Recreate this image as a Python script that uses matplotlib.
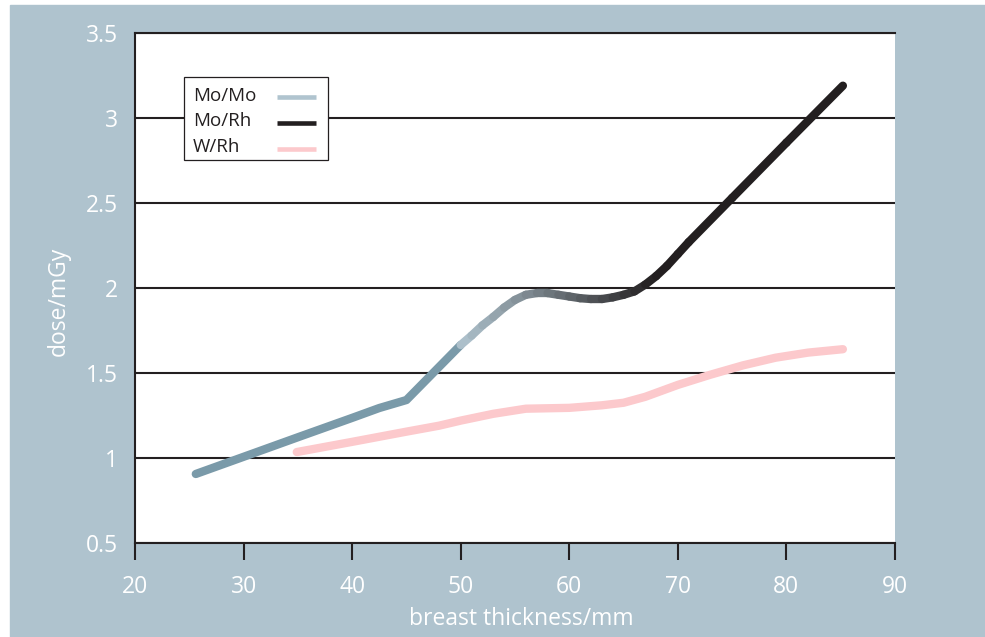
import numpy as np
import matplotlib
matplotlib.use("Agg")
import matplotlib.pyplot as plt
from matplotlib.collections import LineCollection
from matplotlib.patches import Rectangle
from matplotlib.colors import to_rgb

plt.rcParams["font.family"] = ["Open Sans", "DejaVu Sans"]

# Mo/Mo target/filter (25-50 mm)
thick_mo = [25.6, 30, 35, 40, 42.5, 45, 50]
dose_mo = [0.906, 1.007, 1.122, 1.236, 1.294, 1.341, 1.665]

# Mo/Rh target/filter (50-85 mm), blends in colour from Mo/Mo
thick_rh = [50, 51, 52, 53, 54, 55, 56, 57, 58, 59, 60, 61, 62, 63, 64, 65,
            66, 67, 68, 69, 70, 71, 75, 80, 85.2]
dose_rh = [1.665, 1.72, 1.78, 1.83, 1.885, 1.93, 1.96, 1.97, 1.97, 1.96, 1.95,
           1.94, 1.935, 1.935, 1.945, 1.96, 1.98, 2.02, 2.07, 2.13, 2.2,
           2.27, 2.53, 2.855, 3.19]

# W/Rh target/filter
thick_w = [34.9, 40, 45, 48, 50, 53, 56, 60, 63, 65, 67, 70, 73, 76, 79, 82, 85.2]
dose_w = [1.035, 1.095, 1.155, 1.19, 1.22, 1.26, 1.29, 1.295, 1.31, 1.325,
          1.36, 1.43, 1.49, 1.545, 1.59, 1.62, 1.64]

labels = ["Mo/Mo", "Mo/Rh", "W/Rh"]
xticks = [20, 30, 40, 50, 60, 70, 80, 90]
yticks = [0.5, 1, 1.5, 2, 2.5, 3, 3.5]

bg = "#afc3ce"
ink = "#231f20"
c_mo = "#7a9aa9"
c_mo_light = "#b0c4cf"
c_w = "#fcc9cc"

fig = plt.figure(figsize=(9.85, 6.37), dpi=100)
fig.patches.append(Rectangle((10 / 985, 0), 975 / 985, 632 / 637,
                             transform=fig.transFigure, color=bg, zorder=-10))
ax = fig.add_axes([135 / 985, 94 / 637, 760 / 985, 510 / 637])
ax.set_facecolor("white")

lw = 6
ax.plot(thick_w, dose_w, color=c_w, lw=lw, solid_capstyle="round",
        solid_joinstyle="round", zorder=3)
ax.plot(thick_mo, dose_mo, color=c_mo, lw=lw, solid_capstyle="round",
        solid_joinstyle="round", zorder=4)

# Mo/Rh: gradient from light blue-grey to near black between 50 and 68 mm
pts = np.column_stack([thick_rh, dose_rh])
segs = np.stack([pts[:-1], pts[1:]], axis=1)
mid = (np.array(thick_rh[:-1]) + np.array(thick_rh[1:])) / 2
t = np.clip((mid - 50) / 18, 0, 1)[:, None]
cols = (1 - t) * np.array(to_rgb(c_mo_light)) + t * np.array(to_rgb(ink))
lc = LineCollection(segs, colors=cols, linewidths=lw, capstyle="round",
                    joinstyle="round", zorder=4)
ax.add_collection(lc)

ax.set_xlim(20, 90)
ax.set_ylim(0.5, 3.5)
ax.set_xticks(xticks)
ax.set_yticks(yticks)
ax.set_yticklabels([f"{v:g}" for v in yticks])
ax.grid(axis="y", color=ink, lw=1.5, zorder=1)
ax.set_axisbelow(True)

for side in ["left", "bottom", "top"]:
    ax.spines[side].set_color(ink)
    ax.spines[side].set_linewidth(1.5)
ax.spines["right"].set_visible(False)

ax.tick_params(axis="x", direction="out", length=12, width=1.5, color=ink,
               labelcolor="white", labelsize=16.5, pad=11)
ax.tick_params(axis="y", length=0, labelcolor="white", labelsize=16.5, pad=12)

ax.set_xlabel("breast thickness/mm", color="white", fontsize=16.5)
ax.set_ylabel("dose/mGy", color="white", fontsize=16.5)
ax.xaxis.set_label_coords(0.508, -0.125)
ax.yaxis.set_label_coords(-0.084, 0.473)

# legend drawn by hand: labels left-aligned, sample lines on the right
ax.add_patch(Rectangle((0.0645, 0.751), 0.1895, 0.1627, transform=ax.transAxes,
                       facecolor="white", edgecolor=ink, lw=0.9, zorder=10))
leg_colors = [c_mo_light, ink, c_w]
text_y = [0.8673, 0.8171, 0.7673]
line_y = [0.8751, 0.8241, 0.7716]
for lab, col, ty, ly in zip(labels, leg_colors, text_y, line_y):
    ax.text(0.0763, ty, lab, transform=ax.transAxes, fontsize=13.5,
            color=ink, va="baseline", ha="left", zorder=11)
    ax.plot([0.1868, 0.2382], [ly, ly], transform=ax.transAxes, color=col,
            lw=3.3, solid_capstyle="butt", zorder=11)

fig.savefig("out.png", dpi=100)
